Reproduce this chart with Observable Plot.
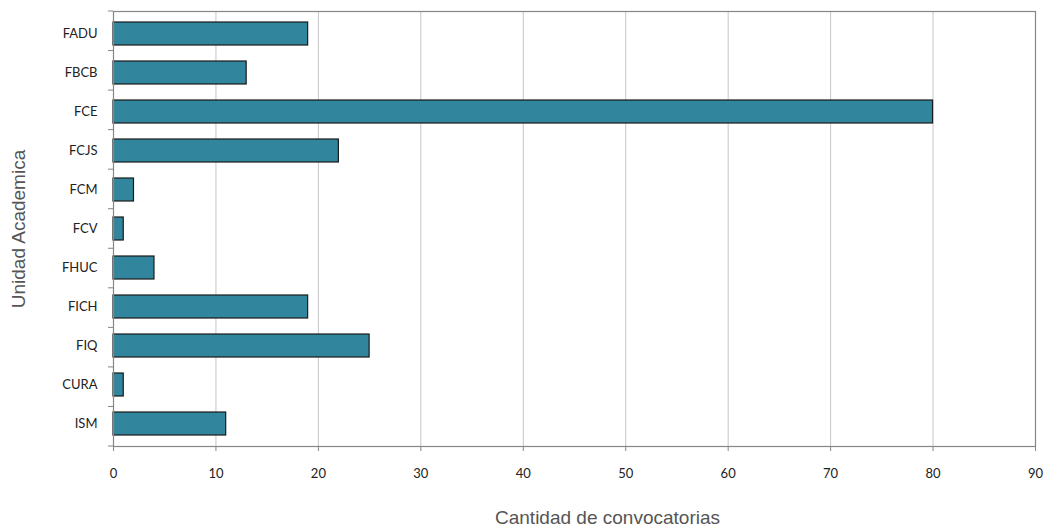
<!DOCTYPE html>
<html>
<head>
<meta charset="utf-8">
<script src="https://cdn.jsdelivr.net/npm/d3@7"></script>
<script src="https://cdn.jsdelivr.net/npm/@observablehq/plot@0.6"></script>
<style>
  html, body { margin: 0; padding: 0; background: #fff; }
  #chart { width: 1046px; height: 529px; }
</style>
</head>
<body>
<div id="chart"></div>
<script>
const categories = ["FADU","FBCB","FCE","FCJS","FCM","FCV","FHUC","FICH","FIQ","CURA","ISM"];
const values = [19,13,80,22,2,1,4,19,25,1,11];
const xTicks = [0,10,20,30,40,50,60,70,80,90];
const xTitle = "Cantidad de convocatorias";
const yTitle = "Unidad Academica";

const data = categories.map((c, i) => ({cat: c, value: values[i]}));

// category boundary ticks on the left axis
function yBoundaryTicks(index, scales, vals, dims) {
  const svg = d3.create("svg:g");
  const n = categories.length;
  const top = dims.marginTop, bottom = dims.height - dims.marginBottom;
  const step = (bottom - top) / n;
  const x0 = dims.marginLeft;
  for (let k = 0; k <= n; k++) {
    const yy = top + k * step;
    svg.append("line").attr("x1", x0 - 5).attr("x2", x0).attr("y1", yy).attr("y2", yy)
      .attr("stroke", "#868686").attr("stroke-width", 1);
  }
  return svg.node();
}

const chart = Plot.plot({
  width: 1046,
  height: 529,
  marginLeft: 113,
  marginRight: 11,
  marginTop: 11,
  marginBottom: 83,
  style: {fontFamily: "Lato, sans-serif", background: "#fff"},
  x: {domain: [0, 90], ticks: xTicks, label: null},
  y: {domain: categories, paddingInner: 0.42, paddingOuter: 0.21, label: null},
  marks: [
    Plot.gridX(xTicks, {stroke: "#c6c6c6", strokeOpacity: 1, strokeWidth: 1}),
    Plot.barX(data, {y: "cat", x: "value", fill: "#31859C", stroke: "#1a1a1a", strokeWidth: 1.2}),
    Plot.frame({stroke: "#868686", strokeWidth: 1.2}),
    Plot.axisX({ticks: xTicks, tickSize: 5, tickPadding: 17, fontSize: 13, stroke: "#868686", color: "#222", label: null}),
    Plot.axisY({tickSize: 0, tickPadding: 16, fontSize: 13, color: "#222", label: null}),
    yBoundaryTicks,
    Plot.text([xTitle], {text: d => d, frameAnchor: "bottom", dy: 77, dx: 33, fontSize: 19, fill: "#555", fontFamily: "Liberation Sans, Arial, sans-serif"}),
    Plot.text([yTitle], {text: d => d, frameAnchor: "left", textAnchor: "middle", rotate: -90, dx: -95, fontSize: 19, fill: "#555", fontFamily: "Liberation Sans, Arial, sans-serif"})
  ]
});
document.getElementById("chart").appendChild(chart);
</script>
</body>
</html>
